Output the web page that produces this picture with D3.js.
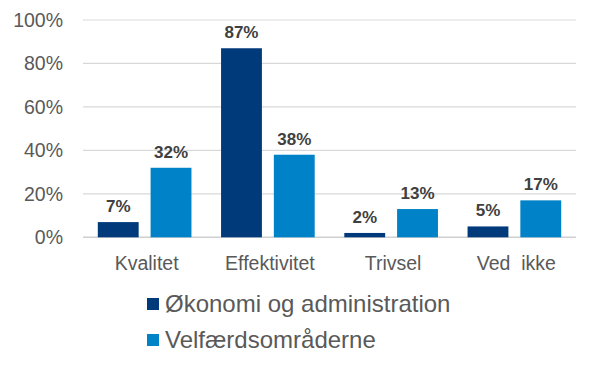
<!DOCTYPE html>
<html><head><meta charset="utf-8">
<script src="https://cdn.jsdelivr.net/npm/d3@7"></script>
<style>body{margin:0;background:#fff}svg{display:block;font-family:Arial,"Liberation Sans",sans-serif}</style>
</head><body><svg id="c" width="596" height="369"></svg>
<script>
const categories = ["Kvalitet","Effektivitet","Trivsel","Ved  ikke"];
const seriesNames = ["Økonomi og administration","Velfærdsområderne"];
const okonomi = [7,87,2,5];
const velfaerd = [32,38,13,17];
const yTicks = [0,20,40,60,80,100];
const colors = ["#003A7A","#0082C8"];

const svg = d3.select("#c");
const L=83, R=576, T=20, B=237.3;
const x0 = d3.scaleBand().domain(categories).range([L,R]).padding(0);
const bw = x0.bandwidth();
const x1 = d3.scaleBand().domain(seriesNames).range([14.8, bw-14.8]).paddingInner(0.226);
const y = d3.scaleLinear().domain([0,100]).range([B,T]);

const gy = svg.append("g");
gy.selectAll("line").data(yTicks).join("line")
  .attr("x1",L).attr("x2",R).attr("y1",d=>y(d)).attr("y2",d=>y(d))
  .attr("stroke",d=>d===0?"#d0d0d0":"#d9d9d9").attr("stroke-width",d=>d===0?1.5:1.2);
gy.selectAll("text").data(yTicks).join("text")
  .attr("x",63).attr("y",d=>y(d)).attr("dy","0.36em").attr("text-anchor","end")
  .attr("font-size","19.5px").attr("fill","#595959").text(d=>d+"%");

const data = categories.map((c,i)=>({c, vals:[okonomi[i],velfaerd[i]]}));
const g = svg.append("g");
const grp = g.selectAll("g").data(data).join("g").attr("transform",d=>`translate(${x0(d.c)},0)`);
grp.selectAll("rect").data(d=>d.vals.map((v,j)=>({v,s:seriesNames[j],j}))).join("rect")
  .attr("x",d=>x1(d.s)).attr("width",x1.bandwidth())
  .attr("y",d=>y(d.v)).attr("height",d=>B-y(d.v)).attr("fill",d=>colors[d.j]);
grp.selectAll("text").data(d=>d.vals.map((v,j)=>({v,s:seriesNames[j],j}))).join("text")
  .attr("x",d=>x1(d.s)+x1.bandwidth()/2).attr("y",d=>y(d.v)-10)
  .attr("text-anchor","middle").attr("font-size","17px").attr("font-weight","bold")
  .attr("fill","#404040").text(d=>d.v+"%");

svg.append("g").selectAll("text").data(categories).join("text")
  .attr("x",d=>x0(d)+bw/2+2).attr("y",270).attr("text-anchor","middle")
  .attr("font-size","19.5px").attr("fill","#595959").attr("xml:space","preserve")
  .style("white-space","pre").text(d=>d);

const lg = svg.append("g");
seriesNames.forEach((s,i)=>{
  const yy = 312 + i*36;
  lg.append("rect").attr("x",147).attr("y",yy-14).attr("width",12).attr("height",12).attr("fill",colors[i]);
  lg.append("text").attr("x",165).attr("y",yy).attr("font-size","24px").attr("fill","#595959").text(s);
});
</script></body></html>
